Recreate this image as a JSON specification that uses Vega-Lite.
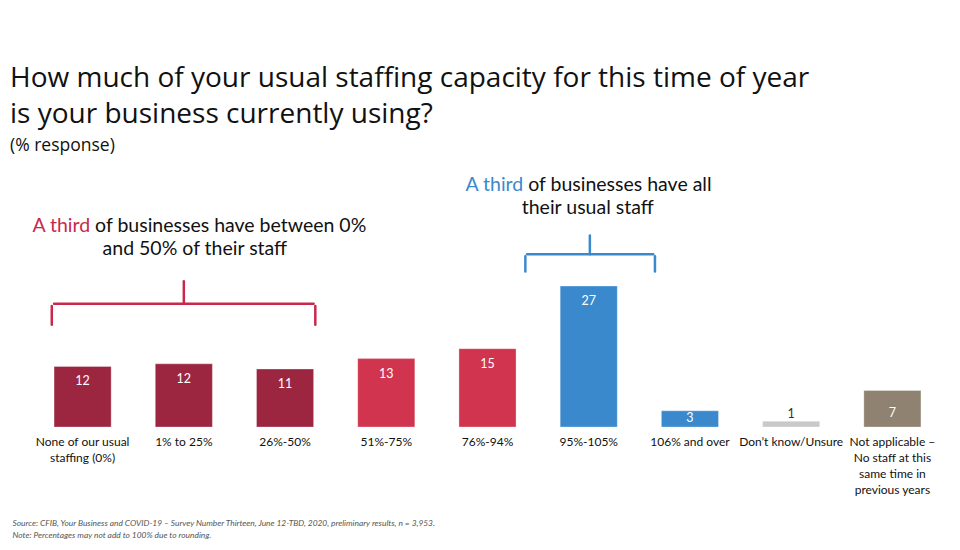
{
  "$schema": "https://vega.github.io/schema/vega-lite/v6.json",
  "width": 911,
  "height": 261,
  "autosize": {"type": "none"},
  "padding": {"left": 32, "top": 166, "right": 17, "bottom": 123},
  "background": "white",
  "config": {"view": {"stroke": null}, "font": "Lato"},
  "title": {
    "text": ["How much of your usual staffing capacity for this time of year", "is your business currently using?"],
    "subtitle": "(% response)",
    "anchor": "start",
    "frame": "group",
    "dx": -22,
    "fontSize": 28,
    "fontWeight": "normal",
    "font": "Open Sans",
    "color": "#111111",
    "lineHeight": 36,
    "subtitleFont": "Open Sans",
    "subtitleFontSize": 17.5,
    "subtitleColor": "#111111",
    "subtitlePadding": 8,
    "offset": 12
  },
  "data": {
    "values": [
      {"cat": "None of our usual|staffing (0%)", "value": 11.6, "grp": "low"},
      {"cat": "1% to 25%", "value": 12.1, "grp": "low"},
      {"cat": "26%-50%", "value": 11.1, "grp": "low"},
      {"cat": "51%-75%", "value": 13.1, "grp": "mid"},
      {"cat": "76%-94%", "value": 15, "grp": "mid"},
      {"cat": "95%-105%", "value": 27, "grp": "full"},
      {"cat": "106% and over", "value": 3.1, "grp": "full"},
      {"cat": "Don’t know/Unsure", "value": 1.1, "grp": "unsure"},
      {"cat": "Not applicable –|No staff at this|same time in|previous years", "value": 7, "grp": "na"}
    ]
  },
  "layer": [
    {
      "mark": {"type": "bar", "stroke": "#ffffff", "strokeOpacity": 0.6, "strokeWidth": 0.5},
      "encoding": {
        "x": {
          "field": "cat", "type": "nominal", "sort": null,
          "scale": {"paddingInner": 0.436, "paddingOuter": 0.218},
          "axis": {
            "title": ["Source: CFIB, Your Business and COVID-19 – Survey Number Thirteen, June 12-TBD, 2020, preliminary results, n =  3,953.", "Note: Percentages may not add to 100% due to rounding."],
            "titleFont": "Lato",
            "titleFontSize": 8.4,
            "titleFontStyle": "italic",
            "titleFontWeight": "normal",
            "titleColor": "#555555",
            "titleX": -20,
            "titleY": 98,
            "titleAlign": "left",
            "titleBaseline": "alphabetic",
            "titleLineHeight": 12.8,
            "labelExpr": "split(datum.value, '|')",
            "labelFont": "Lato",
            "labelFontSize": 12,
            "labelColor": "#111111",
            "labelLineHeight": 16,
            "labelPadding": 9,
            "labelAngle": 0,
            "labelLimit": 0,
            "domain": false,
            "ticks": false,
            "grid": false
          }
        },
        "y": {"field": "value", "type": "quantitative", "scale": {"domain": [0, 50]}, "axis": null},
        "color": {
          "field": "grp", "type": "nominal",
          "scale": {"domain": ["low", "mid", "full", "unsure", "na"], "range": ["#9C2640", "#D0344F", "#3B89CD", "#C9C9C9", "#8F8270"]},
          "legend": null
        }
      }
    },
    {
      "transform": [{"filter": "datum.value >= 10"}],
      "mark": {"type": "text", "baseline": "alphabetic", "dy": 19, "color": "white", "fontSize": 12.5},
      "encoding": {
        "x": {"field": "cat", "type": "nominal", "sort": null},
        "y": {"field": "value", "type": "quantitative"},
        "text": {"field": "value", "type": "quantitative", "format": ".0f"}
      }
    },
    {
      "transform": [{"filter": "datum.value >= 5 && datum.value < 10"}],
      "mark": {"type": "text", "baseline": "alphabetic", "dy": 27, "color": "white", "fontSize": 12.5},
      "encoding": {
        "x": {"field": "cat", "type": "nominal", "sort": null},
        "y": {"field": "value", "type": "quantitative"},
        "text": {"field": "value", "type": "quantitative", "format": ".0f"}
      }
    },
    {
      "transform": [{"filter": "datum.value >= 2 && datum.value < 5"}],
      "mark": {"type": "text", "baseline": "alphabetic", "dy": 11, "color": "white", "fontSize": 12.5},
      "encoding": {
        "x": {"field": "cat", "type": "nominal", "sort": null},
        "y": {"field": "value", "type": "quantitative"},
        "text": {"field": "value", "type": "quantitative", "format": ".0f"}
      }
    },
    {
      "transform": [{"filter": "datum.value < 2"}],
      "mark": {"type": "text", "baseline": "alphabetic", "dy": -3, "color": "#333333", "fontSize": 12.5},
      "encoding": {
        "x": {"field": "cat", "type": "nominal", "sort": null},
        "y": {"field": "value", "type": "quantitative"},
        "text": {"field": "value", "type": "quantitative", "format": ".0f"}
      }
    },
    {
      "data": {"values": [{}]},
      "mark": {"type": "text", "text": "A third", "align": "right", "baseline": "alphabetic", "dx": 7.5, "color": "#C8294B", "fontSize": 19.5},
      "encoding": {
        "x": {"datum": "None of our usual|staffing (0%)", "type": "nominal"},
        "y": {"datum": 37.3, "type": "quantitative"}
      }
    },
    {
      "data": {"values": [{}]},
      "mark": {"type": "text", "text": "of businesses have between 0%", "align": "left", "baseline": "alphabetic", "dx": 12.5, "color": "#111111", "fontSize": 19.5},
      "encoding": {
        "x": {"datum": "None of our usual|staffing (0%)", "type": "nominal"},
        "y": {"datum": 37.3, "type": "quantitative"}
      }
    },
    {
      "data": {"values": [{}]},
      "mark": {"type": "text", "text": "and 50% of their staff", "align": "center", "baseline": "alphabetic", "dx": 11, "color": "#111111", "fontSize": 19.5},
      "encoding": {
        "x": {"datum": "1% to 25%", "type": "nominal"},
        "y": {"datum": 32.9, "type": "quantitative"}
      }
    },
    {
      "data": {"values": [{}]},
      "mark": {"type": "text", "text": "A third", "align": "right", "baseline": "alphabetic", "dx": -65.5, "color": "#3B89CD", "fontSize": 19.5},
      "encoding": {
        "x": {"datum": "95%-105%", "type": "nominal"},
        "y": {"datum": 45.2, "type": "quantitative"}
      }
    },
    {
      "data": {"values": [{}]},
      "mark": {"type": "text", "text": "of businesses have all", "align": "left", "baseline": "alphabetic", "dx": -60.5, "color": "#111111", "fontSize": 19.5},
      "encoding": {
        "x": {"datum": "95%-105%", "type": "nominal"},
        "y": {"datum": 45.2, "type": "quantitative"}
      }
    },
    {
      "data": {"values": [{}]},
      "mark": {"type": "text", "text": "their usual staff", "align": "center", "baseline": "alphabetic", "dx": -1, "color": "#111111", "fontSize": 19.5},
      "encoding": {
        "x": {"datum": "95%-105%", "type": "nominal"},
        "y": {"datum": 40.8, "type": "quantitative"}
      }
    },
    {
      "data": {"values": [{}]},
      "mark": {"type": "rule", "color": "#C8294B", "strokeWidth": 2.5, "strokeCap": "round"},
      "encoding": {
        "x": {"datum": "None of our usual|staffing (0%)", "type": "nominal", "bandPosition": 0},
        "x2": {"datum": "26%-50%", "bandPosition": 1},
        "y": {"datum": 23.6, "type": "quantitative"}
      }
    },
    {
      "data": {"values": [{}]},
      "mark": {"type": "rule", "color": "#C8294B", "strokeWidth": 2.5, "strokeCap": "round"},
      "encoding": {
        "x": {"datum": "None of our usual|staffing (0%)", "type": "nominal", "bandPosition": -0.04},
        "y": {"datum": 23.2, "type": "quantitative"},
        "y2": {"datum": 19.6}
      }
    },
    {
      "data": {"values": [{}]},
      "mark": {"type": "rule", "color": "#C8294B", "strokeWidth": 2.5, "strokeCap": "round"},
      "encoding": {
        "x": {"datum": "26%-50%", "type": "nominal", "bandPosition": 1.03},
        "y": {"datum": 23.2, "type": "quantitative"},
        "y2": {"datum": 19.6}
      }
    },
    {
      "data": {"values": [{}]},
      "mark": {"type": "rule", "color": "#C8294B", "strokeWidth": 2.5, "strokeCap": "round"},
      "encoding": {
        "x": {"datum": "1% to 25%", "type": "nominal", "bandPosition": 0.5},
        "y": {"datum": 23.6, "type": "quantitative"},
        "y2": {"datum": 27.9}
      }
    },
    {
      "data": {"values": [{}]},
      "mark": {"type": "rule", "color": "#3B89CD", "strokeWidth": 2.5, "strokeCap": "round"},
      "encoding": {
        "x": {"datum": "95%-105%", "type": "nominal", "bandPosition": -0.58},
        "x2": {"datum": "95%-105%", "bandPosition": 1.63},
        "y": {"datum": 33.1, "type": "quantitative"}
      }
    },
    {
      "data": {"values": [{}]},
      "mark": {"type": "rule", "color": "#3B89CD", "strokeWidth": 2.5, "strokeCap": "round"},
      "encoding": {
        "x": {"datum": "95%-105%", "type": "nominal", "bandPosition": -0.61},
        "y": {"datum": 32.7, "type": "quantitative"},
        "y2": {"datum": 29.8}
      }
    },
    {
      "data": {"values": [{}]},
      "mark": {"type": "rule", "color": "#3B89CD", "strokeWidth": 2.5, "strokeCap": "round"},
      "encoding": {
        "x": {"datum": "95%-105%", "type": "nominal", "bandPosition": 1.66},
        "y": {"datum": 32.7, "type": "quantitative"},
        "y2": {"datum": 29.8}
      }
    },
    {
      "data": {"values": [{}]},
      "mark": {"type": "rule", "color": "#3B89CD", "strokeWidth": 2.5, "strokeCap": "round"},
      "encoding": {
        "x": {"datum": "95%-105%", "type": "nominal", "bandPosition": 0.52},
        "y": {"datum": 33.1, "type": "quantitative"},
        "y2": {"datum": 36.7}
      }
    }
  ]
}
